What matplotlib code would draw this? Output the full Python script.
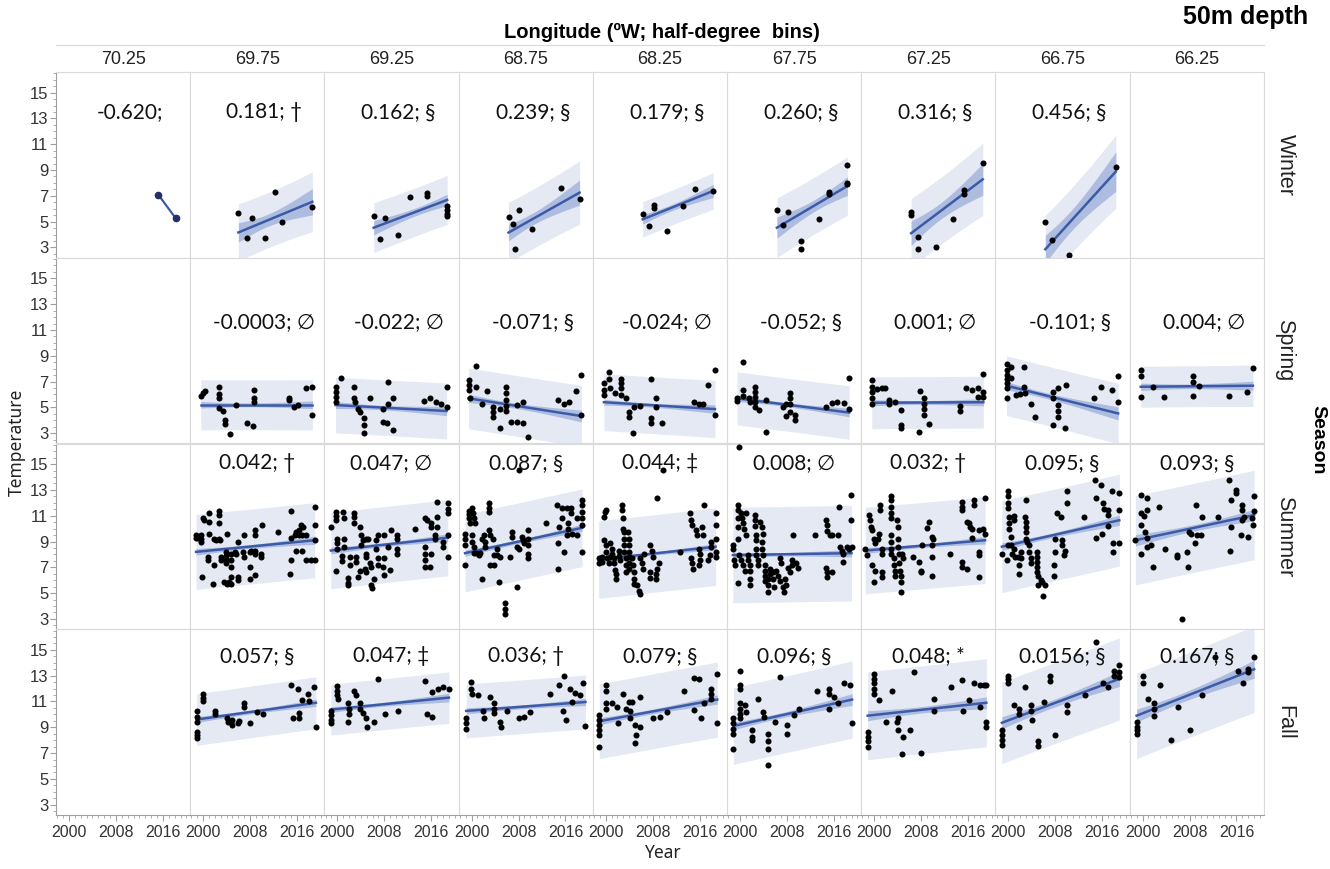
import numpy as np
import matplotlib
matplotlib.use("Agg")
import matplotlib.pyplot as plt
from matplotlib.lines import Line2D

plt.rcParams['font.family'] = ['Liberation Sans Narrow', 'Liberation Sans', 'DejaVu Sans']

longitudes = ["70.25", "69.75", "69.25", "68.75", "68.25", "67.75", "67.25", "66.75", "66.25"]
seasons = ["Winter", "Spring", "Summer", "Fall"]

# (year, temperature)
win_7025 = [(2015.2, 7.1), (2018.2, 5.25)]
win_6975 = [(2006.0, 5.65), (2007.5, 3.71), (2008.3, 5.26), (2010.5, 3.71), (2012.3, 7.33), (2013.4, 5.0), (2018.6, 6.16)]
win_6925 = [(2006.2, 5.44), (2007.3, 3.68), (2008.1, 5.26), (2010.3, 3.97), (2012.3, 6.94), (2015.2, 7.2), (2015.3, 7.0),
            (2018.7, 6.2), (2018.7, 5.9), (2018.7, 5.6), (2018.7, 5.4)]
win_6875 = [(2006.3, 5.36), (2007.1, 4.79), (2008.1, 5.88), (2007.4, 2.86), (2010.3, 4.4), (2015.2, 7.58), (2018.4, 6.73)]
win_6825 = [(2006.3, 5.57), (2007.4, 4.66), (2008.2, 6.08), (2008.2, 6.29), (2010.4, 4.28), (2013.2, 6.24), (2015.2, 7.56), (2018.3, 7.38)]
win_6775 = [(2006.3, 5.9), (2007.4, 4.74), (2008.2, 5.78), (2010.4, 3.5), (2010.4, 2.86), (2013.4, 5.18), (2015.2, 7.17),
            (2015.2, 7.33), (2018.3, 9.39), (2018.3, 7.9), (2018.3, 8.0)]
win_6725 = [(2006.3, 5.78), (2006.3, 5.52), (2007.4, 3.81), (2007.4, 2.86), (2010.5, 3.06), (2013.5, 5.23), (2015.3, 7.17),
            (2015.3, 7.43), (2018.5, 9.52)]
win_6675 = [(2006.3, 5.0), (2007.4, 3.55), (2010.4, 2.42), (2018.3, 9.24)]
win_6625 = []

spr_7025 = []
spr_6975 = [(1999.6, 5.9), (1999.9, 6.1), (2000.4, 6.3), (2002.7, 6.6), (2002.7, 6.0), (2002.7, 5.7), (2002.7, 4.92),
            (2003.3, 4.7), (2003.7, 3.68), (2003.8, 4.0), (2004.5, 2.9), (2005.6, 5.2), (2007.5, 3.76), (2008.5, 3.58),
            (2008.7, 6.34), (2008.7, 5.7), (2008.7, 5.4), (2014.6, 5.75), (2014.7, 5.57), (2015.5, 5.05), (2016.1, 5.18),
            (2017.6, 6.5), (2018.6, 6.6), (2018.5, 4.4)]
spr_6925 = [(1999.7, 6.6), (1999.7, 6.2), (1999.7, 5.8), (1999.7, 5.4), (2000.7, 7.25), (2002.8, 6.6), (2002.8, 5.7),
            (2003.0, 5.4), (2003.5, 4.9), (2003.9, 4.66), (2004.6, 4.2), (2004.6, 3.6), (2004.6, 3.0), (2005.6, 5.7),
            (2007.7, 4.9), (2007.7, 3.9), (2008.5, 3.76), (2008.7, 7.0), (2008.7, 5.3), (2009.5, 5.75), (2009.5, 3.24),
            (2014.7, 5.5), (2015.7, 5.7), (2016.8, 5.44), (2017.6, 5.23), (2018.6, 6.6), (2018.6, 5.05)]
spr_6875 = [(1999.5, 7.1), (1999.5, 6.73), (1999.5, 6.34), (1999.7, 5.7), (2000.7, 8.23), (2000.8, 6.6), (2001.8, 5.3),
            (2002.7, 6.27), (2003.7, 5.05), (2003.7, 4.66), (2003.7, 4.28), (2004.8, 4.9), (2004.8, 3.37), (2005.8, 6.6),
            (2005.8, 6.1), (2005.8, 5.57), (2005.8, 5.13), (2005.8, 4.7), (2006.8, 3.9), (2007.7, 5.18), (2007.7, 3.9),
            (2008.8, 5.44), (2008.8, 3.76), (2009.6, 2.73), (2014.7, 5.57), (2015.7, 5.3), (2016.6, 5.44), (2017.8, 6.27),
            (2018.7, 7.5), (2018.7, 4.4)]
spr_6825 = [(1999.7, 6.86), (1999.7, 6.34), (1999.7, 5.96), (2000.5, 7.2), (2000.5, 7.76), (2000.8, 6.5), (2001.6, 6.1),
            (2002.6, 7.2), (2002.6, 6.86), (2002.6, 6.5), (2002.6, 5.96), (2003.4, 5.7), (2003.9, 4.66), (2003.9, 4.28),
            (2004.7, 3.0), (2004.9, 5.05), (2005.8, 5.13), (2007.7, 7.2), (2007.7, 3.76), (2007.7, 4.15), (2008.6, 5.05),
            (2008.6, 5.7), (2009.5, 3.76), (2015.1, 5.4), (2015.8, 5.3), (2016.6, 5.3), (2017.5, 6.73), (2018.6, 7.9),
            (2018.6, 4.4)]
spr_6775 = [(1999.5, 5.75), (1999.5, 5.5), (2000.5, 8.54), (2000.5, 6.34), (2000.5, 5.9), (2001.5, 5.7), (2001.7, 5.44),
            (2002.6, 6.6), (2002.6, 6.2), (2002.6, 5.8), (2002.6, 5.44), (2002.6, 5.05), (2003.2, 4.8), (2004.5, 5.57),
            (2004.5, 3.1), (2007.4, 5.05), (2007.8, 5.3), (2007.8, 4.36), (2008.5, 6.1), (2008.5, 5.7), (2008.5, 5.3),
            (2008.5, 4.66), (2009.3, 4.4), (2009.3, 4.0), (2014.7, 5.05), (2015.6, 5.36), (2016.6, 5.4), (2017.7, 5.36),
            (2018.6, 7.25), (2018.6, 4.9)]
spr_6725 = [(1999.6, 7.1), (1999.6, 6.6), (1999.6, 6.2), (1999.6, 5.75), (1999.6, 5.3), (2000.5, 6.4), (2001.3, 6.47),
            (2001.9, 6.47), (2002.6, 5.57), (2002.6, 5.3), (2003.5, 5.44), (2004.6, 4.8), (2004.6, 3.6), (2004.6, 3.37),
            (2007.6, 3.1), (2007.8, 6.27), (2008.5, 5.7), (2008.5, 5.3), (2008.5, 4.9), (2008.5, 4.4), (2009.4, 3.68),
            (2014.7, 5.13), (2014.7, 4.7), (2015.7, 6.47), (2016.6, 6.34), (2017.7, 5.83), (2017.7, 6.47), (2018.6, 7.6),
            (2018.6, 6.2), (2018.6, 5.8)]
spr_6675 = [(1999.7, 8.4), (1999.7, 7.9), (1999.7, 7.5), (1999.7, 7.2), (1999.7, 6.86), (1999.7, 6.47), (1999.7, 5.7),
            (2000.5, 8.15), (2000.5, 7.25), (2001.3, 5.96), (2002.0, 6.0), (2002.6, 8.15), (2002.6, 6.6), (2002.9, 6.1),
            (2003.9, 5.3), (2004.6, 4.28), (2007.6, 6.2), (2007.6, 5.7), (2007.6, 3.6), (2008.5, 6.5), (2008.5, 5.18),
            (2008.5, 4.7), (2008.5, 4.28), (2009.6, 3.4), (2009.8, 6.73), (2014.6, 5.7), (2015.7, 6.6), (2017.6, 6.34),
            (2018.7, 7.46), (2018.7, 5.44)]
spr_6625 = [(1999.7, 7.9), (1999.7, 7.4), (1999.7, 5.83), (2001.7, 6.6), (2003.7, 5.77), (2008.6, 7.4), (2008.6, 7.0),
            (2008.6, 5.9), (2009.6, 6.68), (2014.7, 5.9), (2017.8, 6.16), (2018.8, 8.07)]

sum_7025 = []
sum_6975 = [(1998.8, 9.5), (1998.8, 9.3), (1999.2, 9.3), (1999.6, 9.5), (1999.6, 9.2), (1999.6, 9.0), (2000.0, 10.8),
            (2000.2, 10.7), (1999.8, 6.25), (2000.9, 7.8), (2000.9, 7.55), (2001.0, 10.5), (2001.0, 9.6), (2001.0, 11.25),
            (2001.7, 5.7), (2001.9, 9.2), (2002.2, 9.1), (2001.9, 7.15), (2002.7, 11.36), (2002.7, 11.05), (2002.7, 10.4),
            (2002.7, 9.2), (2002.9, 9.1), (2003.0, 7.8), (2003.0, 7.55), (2003.6, 5.85), (2004.0, 5.7), (2003.9, 8.2),
            (2003.9, 7.9), (2003.9, 7.6), (2003.9, 7.3), (2004.0, 9.55), (2004.4, 5.85), (2004.7, 6.25), (2004.7, 5.7),
            (2004.7, 7.0), (2004.7, 7.55), (2004.7, 8.05), (2005.4, 8.2), (2005.6, 8.05), (2006.0, 6.0), (2006.0, 6.25),
            (2006.0, 9.0), (2006.8, 8.2), (2006.9, 7.8), (2007.0, 9.5), (2007.9, 8.2), (2007.9, 6.1), (2007.9, 7.0),
            (2008.2, 8.3), (2008.9, 8.05), (2008.9, 8.3), (2008.9, 6.4), (2008.9, 9.5), (2008.9, 9.9), (2009.8, 8.05),
            (2009.8, 7.8), (2010.0, 10.3), (2012.8, 9.75), (2014.8, 6.5), (2014.9, 11.4), (2014.9, 9.3), (2014.9, 7.55),
            (2015.6, 9.5), (2015.8, 8.3), (2015.8, 9.75), (2016.3, 9.9), (2016.3, 9.5), (2016.7, 10.3), (2017.0, 10.1),
            (2016.9, 8.3), (2016.9, 9.5), (2017.5, 7.55), (2017.5, 9.5), (2018.4, 7.55), (2019.0, 11.7), (2019.0, 10.3),
            (2019.0, 9.1), (2019.0, 7.55)]
sum_6925 = [(1998.9, 10.1), (1999.8, 11.3), (1999.8, 11.0), (1999.8, 10.66), (2000.0, 9.2), (2000.0, 8.85), (2000.0, 8.45),
            (1999.8, 6.7), (2000.8, 7.9), (2000.8, 7.5), (2001.0, 11.3), (2001.1, 10.8), (2001.2, 9.2), (2001.2, 8.6),
            (2001.8, 6.2), (2001.8, 5.8), (2001.8, 5.6), (2002.1, 7.15), (2002.1, 7.8), (2002.9, 11.25), (2002.9, 10.9),
            (2002.9, 10.4), (2003.2, 7.4), (2003.2, 7.8), (2003.5, 6.25), (2003.8, 6.75), (2003.8, 10.1), (2004.0, 9.5),
            (2004.3, 9.1), (2004.0, 8.7), (2004.7, 6.9), (2004.9, 6.6), (2004.9, 8.05), (2004.9, 7.8), (2004.9, 9.2),
            (2005.2, 9.2), (2005.5, 7.3), (2005.7, 7.0), (2005.7, 5.6), (2005.9, 5.4), (2006.2, 6.1), (2006.6, 9.1),
            (2006.6, 8.45), (2006.9, 9.5), (2007.0, 7.7), (2007.0, 7.2), (2007.9, 9.5), (2007.9, 7.7), (2007.8, 7.0),
            (2008.0, 6.4), (2008.6, 8.6), (2008.9, 6.8), (2009.1, 9.9), (2010.1, 9.5), (2010.1, 9.2), (2010.1, 8.45),
            (2010.1, 8.05), (2013.2, 10.0), (2014.9, 10.85), (2015.2, 10.7), (2014.9, 8.6), (2014.9, 8.05), (2015.0, 7.55),
            (2015.0, 7.0), (2015.7, 7.0), (2015.9, 10.4), (2015.9, 10.1), (2015.9, 8.05), (2016.6, 9.5), (2016.6, 9.2),
            (2016.9, 10.1), (2016.9, 10.9), (2017.0, 12.1), (2018.0, 9.0), (2018.0, 8.6), (2018.8, 11.95), (2018.8, 11.55),
            (2018.8, 11.2), (2018.8, 9.5), (2018.8, 7.8)]
sum_6875 = [(1998.9, 9.6), (1998.9, 9.2), (1998.9, 8.7), (1998.9, 7.15), (1999.5, 11.4), (1999.5, 11.1), (1999.5, 10.8),
            (1999.7, 10.4), (2000.1, 11.6), (2000.3, 11.2), (2000.4, 10.8), (2000.6, 10.4), (2000.1, 9.5), (2000.1, 9.0),
            (2000.4, 8.6), (2000.4, 8.1), (2000.8, 8.1), (2001.2, 7.95), (2001.5, 8.1), (2001.8, 6.1), (2001.8, 9.2),
            (2002.1, 9.5), (2002.3, 9.0), (2002.3, 8.6), (2002.9, 12.0), (2002.9, 11.6), (2002.9, 11.3), (2002.9, 9.9),
            (2003.1, 9.5), (2003.2, 7.15), (2003.7, 9.2), (2003.8, 7.95), (2003.8, 7.15), (2004.3, 8.45), (2004.3, 7.95),
            (2004.7, 5.85), (2004.8, 7.8), (2005.75, 4.2), (2005.75, 3.8), (2005.75, 3.4), (2006.6, 7.8), (2006.9, 9.75),
            (2006.9, 9.35), (2007.75, 5.5), (2007.75, 8.6), (2008.0, 8.45), (2008.0, 14.55), (2008.6, 9.35), (2008.8, 9.1),
            (2008.9, 8.85), (2009.6, 9.9), (2009.6, 9.2), (2009.6, 8.7), (2009.6, 8.05), (2009.6, 7.7), (2012.7, 10.4),
            (2014.6, 11.8), (2014.85, 10.1), (2014.7, 8.85), (2014.7, 6.9), (2015.4, 11.6), (2015.4, 10.8), (2015.7, 8.2),
            (2016.3, 11.6), (2016.4, 10.4), (2016.4, 10.0), (2016.3, 9.5), (2016.95, 11.6), (2016.95, 11.2), (2017.1, 9.6),
            (2018.0, 10.8), (2017.9, 9.5), (2018.8, 12.2), (2018.8, 11.8), (2018.8, 11.3), (2018.8, 10.8), (2018.8, 10.3),
            (2018.8, 8.2)]
sum_6825 = [(1998.8, 7.7), (1998.8, 7.3), (1999.4, 7.8), (1999.4, 7.4), (1999.7, 10.92), (1999.85, 11.3), (2000.1, 11.45),
            (1999.7, 9.1), (2000.0, 8.7), (2000.1, 8.2), (2000.2, 7.7), (2000.5, 7.3), (2000.7, 7.8), (2000.8, 8.85),
            (2001.1, 8.45), (2001.1, 8.05), (2001.4, 7.7), (2001.4, 7.3), (2001.5, 6.8), (2001.7, 6.5), (2001.7, 6.1),
            (2002.2, 8.3), (2002.2, 7.9), (2002.4, 7.55), (2002.8, 11.8), (2002.8, 11.45), (2003.0, 10.8), (2003.0, 10.0),
            (2003.1, 9.75), (2003.1, 9.2), (2003.1, 8.7), (2003.1, 8.2), (2003.4, 7.7), (2003.4, 7.15), (2003.4, 6.65),
            (2003.8, 9.75), (2003.9, 9.2), (2003.9, 8.7), (2003.9, 8.2), (2003.9, 7.8), (2003.9, 7.3), (2003.9, 6.9),
            (2004.5, 7.7), (2004.7, 7.15), (2004.8, 6.65), (2004.9, 6.1), (2004.9, 5.7), (2005.4, 5.6), (2005.6, 5.2),
            (2005.8, 4.95), (2005.9, 7.7), (2006.2, 7.3), (2006.4, 6.9), (2006.6, 8.05), (2007.5, 6.6), (2007.6, 6.15),
            (2007.6, 8.7), (2007.9, 8.3), (2008.1, 7.8), (2008.5, 6.1), (2008.5, 6.5), (2008.8, 6.9), (2009.05, 7.3),
            (2008.8, 12.35), (2009.8, 14.55), (2012.6, 8.2), (2014.4, 11.2), (2014.6, 10.65), (2014.7, 10.3), (2014.6, 7.7),
            (2014.7, 7.3), (2014.9, 6.9), (2015.3, 9.9), (2015.5, 9.5), (2015.9, 8.45), (2016.0, 8.05), (2016.0, 7.55),
            (2015.9, 7.15), (2016.4, 10.15), (2016.6, 9.5), (2016.8, 11.8), (2017.4, 7.55), (2017.7, 7.95), (2018.0, 9.0),
            (2018.0, 8.6), (2018.7, 11.2), (2018.7, 10.3), (2018.7, 9.2), (2018.7, 8.2), (2018.7, 7.8)]
sum_6775 = [(1999.8, 16.3), (1998.8, 8.75), (1998.8, 8.45), (1999.0, 7.55), (1999.1, 7.15), (1999.6, 11.8), (1999.6, 11.45),
            (1999.7, 10.8), (1999.7, 10.15), (1999.7, 9.2), (1999.8, 7.95), (1999.7, 5.75), (2000.1, 11.2), (2000.4, 10.8),
            (2000.5, 10.4), (2000.7, 10.0), (2000.2, 7.55), (2000.5, 7.15), (2000.8, 6.75), (2001.1, 11.2), (2001.1, 9.5),
            (2001.3, 7.95), (2001.3, 7.55), (2001.7, 7.15), (2001.7, 6.75), (2001.7, 6.1), (2001.8, 5.6), (2002.5, 11.05),
            (2002.6, 10.65), (2002.6, 10.2), (2002.7, 9.5), (2002.7, 9.1), (2002.8, 8.45), (2002.8, 7.95), (2003.0, 7.55),
            (2003.0, 7.15), (2003.4, 10.5), (2003.7, 10.15), (2004.0, 9.6), (2003.8, 9.0), (2003.8, 8.45), (2004.0, 7.95),
            (2004.2, 7.15), (2004.2, 6.75), (2004.2, 6.35), (2004.2, 5.95), (2004.7, 6.1), (2004.7, 5.6), (2004.8, 5.1),
            (2005.1, 6.9), (2005.2, 6.5), (2005.6, 6.65), (2005.6, 6.1), (2005.8, 5.45), (2006.2, 6.75), (2006.4, 6.35),
            (2006.8, 7.7), (2007.0, 7.3), (2006.8, 5.95), (2007.3, 5.45), (2007.5, 5.1), (2007.6, 6.1), (2007.9, 5.6),
            (2008.2, 6.95), (2008.5, 6.65), (2008.8, 7.55), (2008.8, 7.15), (2009.05, 9.5), (2009.6, 7.35), (2009.9, 6.95),
            (2012.7, 9.5), (2014.7, 10.65), (2014.9, 10.25), (2014.9, 9.8), (2015.3, 9.5), (2015.6, 9.5), (2014.7, 6.95),
            (2014.9, 6.65), (2014.9, 6.25), (2015.6, 6.65), (2016.7, 9.5), (2016.8, 11.7), (2017.0, 8.6), (2017.3, 8.3),
            (2017.6, 8.05), (2017.6, 7.4), (2018.3, 8.6), (2018.5, 8.45), (2018.9, 12.6), (2018.9, 10.65), (2019.0, 8.6)]
sum_6725 = [(1998.5, 8.45), (1998.8, 7.95), (1999.05, 11.05), (1999.3, 10.65), (1999.5, 10.15), (1999.7, 9.9), (1999.9, 9.2),
            (2000.1, 8.85), (1999.7, 7.15), (2000.1, 6.75), (1999.9, 5.85), (2000.6, 9.2), (2000.75, 9.6), (2001.0, 11.8),
            (2001.0, 11.45), (2001.3, 8.45), (2001.3, 8.05), (2001.3, 6.65), (2001.3, 6.25), (2002.9, 12.5), (2002.9, 12.2),
            (2002.9, 11.7), (2002.9, 11.2), (2002.9, 10.8), (2002.9, 9.5), (2002.9, 9.0), (2002.9, 8.45), (2002.9, 8.05),
            (2003.3, 7.7), (2003.4, 7.15), (2003.5, 6.75), (2003.5, 6.35), (2003.9, 10.65), (2004.0, 10.15), (2004.0, 9.2),
            (2004.1, 8.6), (2004.2, 8.05), (2004.3, 7.3), (2004.4, 6.75), (2004.5, 6.35), (2004.6, 5.85), (2004.6, 5.1),
            (2004.8, 8.05), (2004.9, 7.7), (2006.7, 7.8), (2007.6, 7.4), (2007.9, 6.75), (2008.0, 6.6), (2008.1, 8.7),
            (2009.0, 10.05), (2009.4, 10.5), (2009.8, 9.35), (2009.8, 8.7), (2009.8, 7.8), (2009.8, 6.35), (2010.1, 9.2),
            (2013.0, 8.05), (2015.0, 12.1), (2015.0, 11.7), (2015.0, 11.45), (2014.9, 7.4), (2015.0, 7.0), (2015.8, 6.9),
            (2015.8, 10.5), (2016.1, 10.4), (2016.4, 10.15), (2016.7, 10.0), (2016.7, 9.25), (2016.95, 12.2), (2016.95, 11.8),
            (2017.8, 9.9), (2017.8, 8.2), (2017.8, 7.95), (2017.8, 6.25), (2018.6, 10.0), (2018.9, 9.6), (2018.9, 12.4)]
sum_6675 = [(1998.9, 8.05), (1999.8, 7.55), (2000.0, 8.7), (2000.0, 12.9), (2000.0, 12.5), (2000.0, 12.0), (2000.0, 11.6),
            (2000.1, 10.9), (2000.1, 10.4), (2000.2, 10.0), (2000.4, 9.35), (2000.5, 8.7), (2000.6, 8.05), (2000.9, 11.0),
            (2000.9, 10.65), (2000.9, 8.45), (2001.1, 7.8), (2001.7, 7.8), (2001.8, 7.15), (2001.8, 6.5), (2002.1, 8.2),
            (2002.2, 7.7), (2002.9, 10.9), (2003.0, 10.5), (2003.0, 10.15), (2003.0, 9.75), (2003.0, 12.2), (2003.0, 9.2),
            (2003.2, 9.0), (2003.5, 8.7), (2003.6, 8.2), (2003.8, 7.7), (2003.8, 7.3), (2004.9, 8.2), (2004.9, 7.8),
            (2004.9, 7.4), (2004.9, 7.0), (2004.9, 6.65), (2005.1, 6.35), (2005.1, 5.6), (2005.6, 6.0), (2005.8, 5.85),
            (2005.9, 4.8), (2006.3, 5.6), (2007.7, 6.35), (2007.7, 7.15), (2007.9, 8.2), (2008.0, 9.2), (2008.3, 11.2),
            (2008.9, 10.9), (2009.2, 8.7), (2009.2, 9.1), (2009.6, 8.3), (2009.4, 7.95), (2010.0, 12.0), (2010.0, 12.9),
            (2012.9, 10.9), (2014.7, 13.8), (2014.85, 12.35), (2014.85, 9.25), (2015.7, 13.4), (2016.0, 9.6), (2016.1, 11.95),
            (2016.3, 11.55), (2016.9, 11.05), (2017.0, 10.2), (2017.0, 11.45), (2017.7, 12.9), (2017.8, 8.85), (2017.8, 8.2),
            (2018.9, 12.75), (2018.9, 11.45), (2018.9, 8.85)]
sum_6625 = [(1998.8, 9.1), (1999.8, 12.6), (1999.8, 11.2), (1999.8, 10.3), (1999.8, 8.05), (2000.2, 11.0), (2000.8, 12.35),
            (2000.8, 11.45), (2000.5, 9.75), (2000.8, 9.25), (2000.8, 8.6), (2001.4, 8.7), (2001.8, 7.0), (2002.8, 11.7),
            (2003.8, 8.45), (2005.9, 7.95), (2005.9, 7.8), (2006.8, 3.0), (2007.6, 8.2), (2007.8, 7.0), (2007.9, 9.75),
            (2008.2, 9.6), (2008.9, 8.85), (2009.05, 11.85), (2009.3, 9.5), (2009.9, 9.5), (2010.1, 10.9), (2012.9, 10.9),
            (2014.7, 13.8), (2015.0, 12.2), (2015.0, 10.15), (2014.85, 8.3), (2015.9, 13.0), (2016.0, 12.75), (2017.0, 11.85),
            (2017.0, 11.45), (2017.0, 10.65), (2016.7, 9.5), (2017.3, 10.9), (2017.9, 9.35), (2018.7, 10.8), (2018.8, 10.25),
            (2019.0, 12.5), (2019.0, 11.35)]

fal_7025 = []
fal_6975 = [(1998.9, 10.3), (1998.9, 9.8), (1998.9, 9.4), (1998.9, 8.65), (1998.9, 8.4), (1998.9, 8.15), (1999.9, 11.6),
            (1999.9, 11.3), (1999.9, 11.05), (2002.0, 10.3), (2002.1, 10.0), (2004.0, 9.75), (2004.3, 9.4), (2004.9, 9.15),
            (2005.0, 9.55), (2005.95, 9.3), (2006.1, 9.5), (2006.9, 10.9), (2006.9, 10.6), (2007.9, 9.3), (2009.2, 10.2),
            (2010.2, 10.05), (2014.9, 12.25), (2016.1, 12.0), (2015.3, 9.7), (2016.3, 9.7), (2016.3, 10.1), (2016.8, 11.1),
            (2017.8, 11.6), (2018.0, 11.05), (2018.9, 12.1), (2019.2, 9.0)]
fal_6925 = [(1998.9, 10.3), (1998.9, 9.95), (1998.9, 9.55), (1998.9, 9.3), (1999.9, 12.2), (1999.9, 11.85), (1999.9, 11.5),
            (2000.1, 11.2), (2001.8, 10.85), (2002.0, 10.45), (2002.0, 10.05), (2001.8, 9.4), (2002.9, 11.85), (2003.1, 11.5),
            (2003.9, 10.85), (2003.9, 10.45), (2004.3, 10.1), (2004.9, 9.7), (2005.0, 9.05), (2006.2, 9.4), (2006.9, 12.75),
            (2008.1, 10.05), (2010.4, 10.3), (2014.9, 12.6), (2015.3, 10.05), (2016.1, 9.8), (2016.1, 11.75), (2017.1, 12.0),
            (2018.0, 12.1), (2019.0, 12.0)]
fal_6875 = [(1999.1, 9.7), (1999.1, 9.3), (1999.1, 8.9), (1999.9, 12.5), (1999.9, 12.0), (2000.1, 11.6), (2001.1, 11.5),
            (2002.0, 10.3), (2002.1, 9.7), (2003.1, 11.35), (2003.9, 10.85), (2003.9, 10.45), (2003.9, 10.1), (2004.9, 9.4),
            (2005.0, 9.05), (2006.0, 10.25), (2008.1, 9.7), (2009.0, 9.8), (2010.0, 10.2), (2013.3, 11.6), (2014.9, 12.3),
            (2015.5, 10.3), (2015.8, 13.0), (2016.1, 9.55), (2016.8, 12.0), (2017.1, 10.95), (2017.6, 11.65), (2018.4, 11.5),
            (2018.9, 12.4), (2019.4, 9.1)]
fal_6825 = [(1998.9, 9.95), (1998.9, 9.55), (1998.9, 9.15), (1998.9, 8.8), (1998.9, 8.4), (1998.9, 7.5), (2000.1, 12.25),
            (2000.1, 11.85), (2000.1, 10.85), (2000.1, 10.4), (2001.1, 10.85), (2002.0, 10.6), (2002.1, 9.3), (2003.0, 11.6),
            (2003.4, 10.45), (2003.9, 10.95), (2004.1, 10.25), (2004.1, 9.7), (2004.4, 10.95), (2005.0, 9.15), (2005.2, 8.4),
            (2005.0, 7.75), (2005.9, 11.35), (2005.9, 9.05), (2008.1, 9.7), (2009.2, 9.8), (2010.4, 10.2), (2013.3, 11.8),
            (2015.1, 12.8), (2015.8, 12.75), (2015.1, 10.35), (2016.2, 9.7), (2016.8, 10.85), (2017.9, 12.0), (2017.9, 11.6),
            (2018.0, 11.2), (2018.9, 13.1), (2019.0, 9.35)]
fal_6775 = [(1998.9, 9.7), (1998.9, 9.3), (1998.9, 8.9), (1998.9, 8.5), (1998.9, 7.35), (2000.0, 13.4), (2000.0, 12.25),
            (2000.0, 12.0), (2000.0, 10.85), (2000.0, 10.45), (2000.0, 10.05), (2000.0, 9.7), (2000.8, 10.7), (2001.0, 10.2),
            (2002.0, 8.8), (2002.0, 8.25), (2002.0, 8.0), (2003.0, 11.2), (2004.0, 10.2), (2004.1, 9.8), (2004.8, 8.5),
            (2004.8, 7.9), (2004.8, 7.35), (2004.8, 6.1), (2005.95, 9.4), (2006.9, 12.9), (2008.0, 9.15), (2008.0, 8.5),
            (2009.15, 9.95), (2010.0, 10.45), (2013.1, 11.85), (2015.1, 12.0), (2015.2, 11.6), (2015.2, 10.45), (2016.0, 11.35),
            (2016.7, 10.85), (2017.8, 12.4), (2018.8, 12.25), (2019.1, 9.35)]
fal_6725 = [(1998.9, 8.65), (1998.9, 8.25), (1998.9, 7.9), (1998.9, 7.5), (2000.0, 13.15), (2000.0, 12.75), (2000.0, 12.4),
            (2000.0, 12.0), (2000.0, 11.6), (2000.9, 11.1), (2002.0, 9.4), (2003.0, 11.85), (2003.9, 9.4), (2004.1, 9.7),
            (2004.1, 8.8), (2005.0, 8.25), (2004.8, 6.95), (2006.1, 8.8), (2006.8, 13.3), (2007.9, 7.0), (2010.2, 11.2),
            (2010.2, 10.3), (2013.1, 12.1), (2015.0, 12.65), (2015.2, 10.3), (2016.1, 11.1), (2017.0, 12.4), (2018.0, 12.3),
            (2018.7, 12.25), (2019.1, 12.25), (2019.1, 9.4), (2019.1, 9.0), (2018.0, 10.6)]
fal_6675 = [(1998.9, 8.8), (1998.9, 8.4), (1998.9, 8.0), (1998.9, 7.6), (2000.0, 13.0), (2000.0, 12.75), (2000.0, 12.4),
            (2000.9, 10.7), (2001.9, 10.45), (2001.9, 10.05), (2001.9, 9.05), (2002.9, 12.1), (2003.9, 10.7), (2003.9, 10.3),
            (2004.1, 9.6), (2005.0, 7.9), (2005.0, 7.55), (2006.1, 10.95), (2007.1, 13.0), (2007.1, 12.6), (2008.0, 8.4),
            (2010.0, 10.7), (2010.0, 10.2), (2013.1, 11.5), (2015.0, 15.6), (2016.1, 12.4), (2017.0, 12.1), (2018.0, 13.4),
            (2018.0, 13.0), (2018.9, 13.8), (2018.9, 13.3), (2018.9, 12.9)]
fal_6625 = [(1999.0, 9.4), (1999.0, 9.05), (1999.0, 8.8), (1999.0, 8.5), (2000.0, 13.0), (2000.0, 12.4), (2001.0, 11.2),
            (2002.0, 10.85), (2002.0, 10.4), (2002.0, 9.9), (2003.0, 12.25), (2004.9, 8.05), (2006.0, 10.6), (2008.0, 8.8),
            (2010.1, 11.5), (2012.3, 14.45), (2016.2, 13.35), (2017.1, 12.4), (2018.0, 13.3), (2018.0, 13.55), (2019.0, 14.45)]

# fitted line: temperature at first and last year of each panel
winter_fit = [(7.1, 5.25), (4.16, 6.54), (4.53, 6.68), (4.15, 7.25), (5.18, 7.38), (4.53, 7.76), (4.1, 8.28), (2.86, 8.88), None]
spring_fit = [None, (5.2, 5.2), (5.18, 4.72), (5.7, 4.33), (5.4, 4.87), (5.7, 4.6), (5.36, 5.4), (6.68, 4.53), (6.6, 6.68)]
summer_fit = [None, (8.2, 9.1), (8.3, 9.3), (8.1, 10.06), (7.6, 8.6), (7.95, 8.1), (8.3, 9.1), (8.6, 10.65), (9.1, 11.05)]
fall_fit = [None, (9.6, 10.9), (10.37, 11.3), (10.27, 10.96), (9.47, 11.15), (9.1, 11.15), (9.9, 10.9), (9.35, 12.75), (9.9, 13.5)]

# half-widths at the mean year: confidence band / prediction band
winter_ci = [0, 0.47, 0.3, 0.46, 0.24, 0.45, 0.63, 0.8, 0]
winter_pi = [0, 2.14, 1.87, 2.3, 1.35, 2.2, 2.6, 2.52, 0]
spring_ci = [0, 0.15, 0.17, 0.2, 0.15, 0.15, 0.15, 0.22, 0.18]
spring_pi = [0, 1.93, 2.15, 2.35, 2.2, 2.05, 2.0, 2.3, 1.58]
summer_ci = [0, 0.15, 0.15, 0.15, 0.12, 0.13, 0.14, 0.18, 0.25]
summer_pi = [0, 2.9, 2.95, 3.0, 3.0, 3.7, 3.35, 3.55, 3.45]
fall_ci = [0, 0.15, 0.15, 0.15, 0.18, 0.2, 0.25, 0.3, 0.35]
fall_pi = [0, 2.0, 1.97, 2.08, 2.9, 2.97, 3.4, 3.15, 3.3]

winter_lbl = ["-0.620;", "0.181; \u2020", "0.162; \u00a7", "0.239; \u00a7", "0.179; \u00a7", "0.260; \u00a7", "0.316; \u00a7", "0.456; \u00a7", ""]
spring_lbl = ["", "-0.0003; \u2205", "-0.022; \u2205", "-0.071; \u00a7", "-0.024; \u2205", "-0.052; \u00a7", "0.001; \u2205", "-0.101; \u00a7", "0.004; \u2205"]
summer_lbl = ["", "0.042; \u2020", "0.047; \u2205", "0.087; \u00a7", "0.044; \u2021", "0.008; \u2205", "0.032; \u2020", "0.095; \u00a7", "0.093; \u00a7"]
fall_lbl = ["", "0.057; \u00a7", "0.047; \u2021", "0.036; \u2020", "0.079; \u00a7", "0.096; \u00a7", "0.048; *", "0.0156; \u00a7", "0.167; \u00a7"]

rows = [
    ([win_7025, win_6975, win_6925, win_6875, win_6825, win_6775, win_6725, win_6675, win_6625], winter_fit, winter_ci, winter_pi, winter_lbl),
    ([spr_7025, spr_6975, spr_6925, spr_6875, spr_6825, spr_6775, spr_6725, spr_6675, spr_6625], spring_fit, spring_ci, spring_pi, spring_lbl),
    ([sum_7025, sum_6975, sum_6925, sum_6875, sum_6825, sum_6775, sum_6725, sum_6675, sum_6625], summer_fit, summer_ci, summer_pi, summer_lbl),
    ([fal_7025, fal_6975, fal_6925, fal_6875, fal_6825, fal_6775, fal_6725, fal_6675, fal_6625], fall_fit, fall_ci, fall_pi, fall_lbl),
]
label_y = [13.5, 11.6, 15.1, 14.5]
label_dx = [1.2, 1.2, 0.0, 0.0]

PRED = "#e4e9f4"
CONF = "#aebcdf"
LINE = "#3b5aa8"
EDGE = "#dadada"
AXC = "#a0a0a0"
ANNOT_FONT = ['Lato', 'DejaVu Sans']

W, H = 1330, 869
fig = plt.figure(figsize=(13.3, 8.69), dpi=100)
x_left, y_top = 56, 72
col_w, row_h = 134.2, 185.75
XL = (1997.8, 2020.65)
YL = (2.2, 16.6)


def box(x, y, w, h):
    return [x / W, 1 - (y + h) / H, w / W, h / H]


for r, (panels, fits, cis, pis, lbls) in enumerate(rows):
    for c in range(9):
        ax = fig.add_axes(box(x_left + c * col_w, y_top + r * row_h, col_w, row_h))
        ax.set_xlim(*XL)
        ax.set_ylim(*YL)
        for sp in ax.spines.values():
            sp.set_color(EDGE)
            sp.set_linewidth(0.8)
        ax.tick_params(which='both', left=False, bottom=False, labelleft=False, labelbottom=False)

        if c == 0:
            ax.spines['left'].set_color(AXC)
            ax.set_yticks(range(3, 16, 2))
            ax.set_yticks(np.arange(2.5, 16.6, 0.5), minor=True)
            ax.tick_params(axis='y', which='major', left=True, labelleft=True, length=4, width=0.8,
                           color=AXC, labelsize=12, labelcolor='#333333', pad=1.5)
            ax.tick_params(axis='y', which='minor', left=True, length=2, width=0.6, color=AXC)
        if r == 3:
            ax.spines['bottom'].set_color(AXC)
            ax.set_xticks([2000, 2008, 2016])
            ax.set_xticks(np.arange(1998, 2021, 1), minor=True)
            ax.tick_params(axis='x', which='major', bottom=True, labelbottom=True, length=4, width=0.8,
                           color=AXC, labelsize=11.5, labelcolor='#333333', pad=3)
            ax.tick_params(axis='x', which='minor', bottom=True, length=2, width=0.6, color=AXC)

        pts = panels[c]
        if pts:
            yr, tp = np.array(pts, dtype=float).T
            x0, x1 = yr.min(), yr.max()
            f0, f1 = fits[c]
            if len(yr) >= 3:
                xs = np.linspace(x0, x1, 80)
                ys = f0 + (f1 - f0) * (xs - x0) / (x1 - x0)
                xbar = yr.mean()
                sxx = ((yr - xbar) ** 2).sum()
                conf = cis[c] * np.sqrt(1 + len(yr) * (xs - xbar) ** 2 / sxx)
                pred = np.sqrt(conf ** 2 + pis[c] ** 2 - cis[c] ** 2)
                ax.fill_between(xs, ys - pred, ys + pred, color=PRED, lw=0, zorder=1)
                ax.fill_between(xs, ys - conf, ys + conf, color=CONF, lw=0, zorder=2)
                ax.plot([x0, x1], [f0, f1], color=LINE, lw=1.8, zorder=3)
                ax.scatter(yr, tp, s=19, color='black', lw=0, zorder=4)
            else:
                ax.plot(yr, tp, color=LINE, lw=1.6, marker='o', ms=4.5, mfc='#22306a', mec='#22306a', zorder=3)

        if lbls[c]:
            ax.text((XL[0] + XL[1]) / 2 + label_dx[r], label_y[r], lbls[c], ha='center', va='center',
                    fontsize=15, family=ANNOT_FONT, color='#111111', zorder=5)

# header strip with longitude bins
fig.add_artist(Line2D([x_left / W, (x_left + 9 * col_w) / W], [1 - 45 / H] * 2, color=EDGE, lw=0.8))
for c, lon in enumerate(longitudes):
    fig.text((x_left + (c + 0.5) * col_w) / W, 1 - 60 / H, lon, ha='center', va='center',
             fontsize=13, family=['Liberation Sans', 'DejaVu Sans'], color='#222222')

# season strip on the right
for r, s in enumerate(seasons):
    fig.text(1285 / W, 1 - (y_top + (r + 0.5) * row_h) / H, s, rotation=-90, ha='center', va='center',
             fontsize=15.5, family=['Liberation Sans', 'DejaVu Sans'], color='#222222')

fig.text(662 / W, 1 - 32 / H, "Longitude (\u00baW; half-degree  bins)", ha='center', va='center',
         fontsize=14.5, fontweight='bold', family=['Liberation Sans', 'DejaVu Sans'])
fig.text(1246 / W, 1 - 17 / H, "50m depth", ha='center', va='center',
         fontsize=18, fontweight='bold', family=['Liberation Sans', 'DejaVu Sans'])
fig.text(1318 / W, 1 - 440 / H, "Season", rotation=-90, ha='center', va='center',
         fontsize=14, fontweight='bold', family=['Liberation Sans', 'DejaVu Sans'])
fig.text(17 / W, 1 - 442 / H, "Temperature", rotation=90, ha='center', va='center',
         fontsize=12.5, family=['Noto Sans', 'DejaVu Sans'], color='#222222')
fig.text(662 / W, 1 - 853 / H, "Year", ha='center', va='center',
         fontsize=12.5, family=['Noto Sans', 'DejaVu Sans'], color='#222222')

fig.savefig("out.png", dpi=100, facecolor='white')
